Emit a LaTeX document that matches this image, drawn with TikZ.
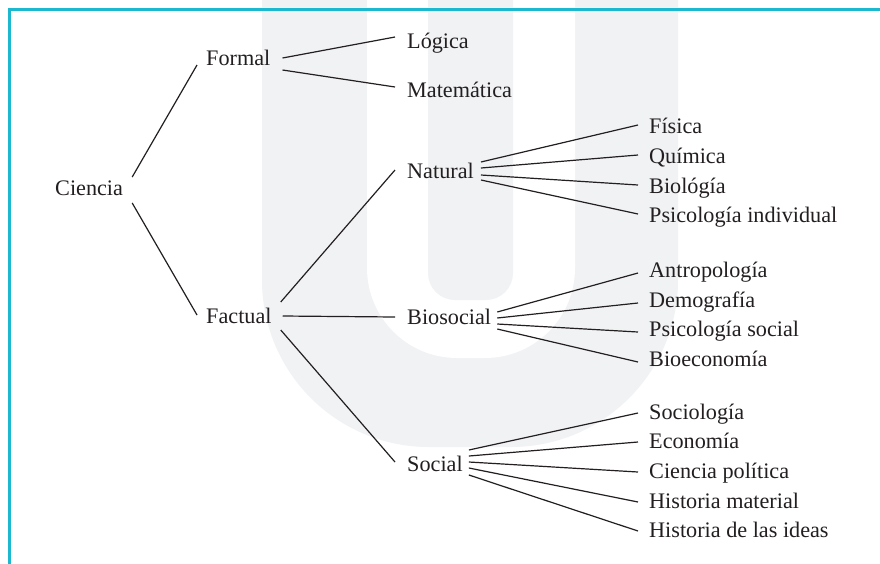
\documentclass[tikz,border=0pt]{standalone}
\usepackage{fontspec}
\setmainfont{Liberation Serif}
\definecolor{cyanb}{RGB}{28,184,208}
\definecolor{wm}{RGB}{241,242,244}
\definecolor{ink}{RGB}{35,31,32}
\tikzset{
  lbl/.style={anchor=base west, inner sep=0pt, text height=12pt, text depth=0pt,
              font=\fontsize{22.2}{26}\selectfont, text=ink},
  ln/.style={draw=ink, line width=1.2pt}
}
\begin{document}
\begin{tikzpicture}[x=1pt,y=-1pt]
\useasboundingbox (0,0) rectangle (880,563);
\clip (0,0) rectangle (880,563);
\fill[white] (0,0) rectangle (880,563);
% watermark
\fill[wm, rounded corners=167pt] (262,-300) -- (262,447) -- (678,447) -- (678,-300) -- cycle;
\fill[white, rounded corners=90pt] (367,-300) -- (367,358) -- (575,358) -- (575,-300) -- cycle;
\fill[wm, rounded corners=27pt] (428,-300) -- (428,300) -- (513,300) -- (513,-300) -- cycle;
% frame
\draw[cyanb, line width=3pt] (9.5,570) -- (9.5,9.5) -- (890,9.5);
% nodes
\node[lbl] (ciencia) at (55,195) {Ciencia};
\node[lbl] (formal) at (206,65) {Formal};
\node[lbl] (factual) at (206,323) {Factual};
\node[lbl] (logica) at (407,48) {Lógica};
\node[lbl] (matematica) at (407,97) {Matemática};
\node[lbl] (natural) at (407,178) {Natural};
\node[lbl] (biosocial) at (407,324) {Biosocial};
\node[lbl] (social) at (407,471) {Social};
\node[lbl] (fisica) at (649,133) {Física};
\node[lbl] (quimica) at (649,163) {Química};
\node[lbl] (biologia) at (649,193) {Biológía};
\node[lbl] (psicind) at (649,222) {Psicología individual};
\node[lbl] (antropologia) at (649,277) {Antropología};
\node[lbl] (demografia) at (649,307) {Demografía};
\node[lbl] (psicsoc) at (649,336) {Psicología social};
\node[lbl] (bioeconomia) at (649,366) {Bioeconomía};
\node[lbl] (sociologia) at (649,419) {Sociología};
\node[lbl] (economia) at (649,448) {Economía};
\node[lbl] (cienciapol) at (649,478) {Ciencia política};
\node[lbl] (histmat) at (649,508) {Historia material};
\node[lbl] (histideas) at (649,537) {Historia de las ideas};
% connectors
\draw[ln] ([xshift=9pt,yshift=12pt]ciencia.east) -- ([xshift=-9pt,yshift=-6pt]formal.west);
\draw[ln] ([xshift=9pt,yshift=-14pt]ciencia.east) -- ([xshift=-9pt,yshift=2pt]factual.west);
\draw[ln] ([xshift=12pt,yshift=1pt]formal.east) -- ([xshift=-12pt,yshift=5pt]logica.west);
\draw[ln] ([xshift=12pt,yshift=-11pt]formal.east) -- ([xshift=-12pt,yshift=4pt]matematica.west);
\draw[ln] ([xshift=9pt,yshift=15pt]factual.east) -- ([xshift=-12pt,yshift=2pt]natural.west);
\draw[ln] ([xshift=11pt,yshift=1pt]factual.east) -- ([xshift=-12pt,yshift=1pt]biosocial.west);
\draw[ln] ([xshift=9pt,yshift=-13pt]factual.east) -- ([xshift=-12pt,yshift=3pt]social.west);
% natural fan
\draw[ln] ([xshift=7pt,yshift=10pt]natural.east) -- ([xshift=-11pt,yshift=2pt]fisica.west);
\draw[ln] ([xshift=7pt,yshift=4pt]natural.east) -- ([xshift=-11pt,yshift=2pt]quimica.west);
\draw[ln] ([xshift=7pt,yshift=-3pt]natural.east) -- ([xshift=-11pt,yshift=2pt]biologia.west);
\draw[ln] ([xshift=7pt,yshift=-8pt]natural.east) -- ([xshift=-11pt,yshift=2pt]psicind.west);
% biosocial fan
\draw[ln] ([xshift=6pt,yshift=6pt]biosocial.east) -- ([xshift=-11pt,yshift=-2pt]antropologia.west);
\draw[ln] ([xshift=6pt,yshift=0pt]biosocial.east) -- ([xshift=-11pt,yshift=-2pt]demografia.west);
\draw[ln] ([xshift=6pt,yshift=-6pt]biosocial.east) -- ([xshift=-11pt,yshift=-2pt]psicsoc.west);
\draw[ln] ([xshift=6pt,yshift=-11pt]biosocial.east) -- ([xshift=-11pt,yshift=-2pt]bioeconomia.west);
% social fan
\draw[ln] ([xshift=6pt,yshift=15pt]social.east) -- ([xshift=-11pt,yshift=0pt]sociologia.west);
\draw[ln] ([xshift=6pt,yshift=9pt]social.east) -- ([xshift=-11pt,yshift=0pt]economia.west);
\draw[ln] ([xshift=6pt,yshift=3pt]social.east) -- ([xshift=-11pt,yshift=0pt]cienciapol.west);
\draw[ln] ([xshift=6pt,yshift=-3pt]social.east) -- ([xshift=-11pt,yshift=0pt]histmat.west);
\draw[ln] ([xshift=6pt,yshift=-10pt]social.east) -- ([xshift=-11pt,yshift=0pt]histideas.west);
\end{tikzpicture}
\end{document}
